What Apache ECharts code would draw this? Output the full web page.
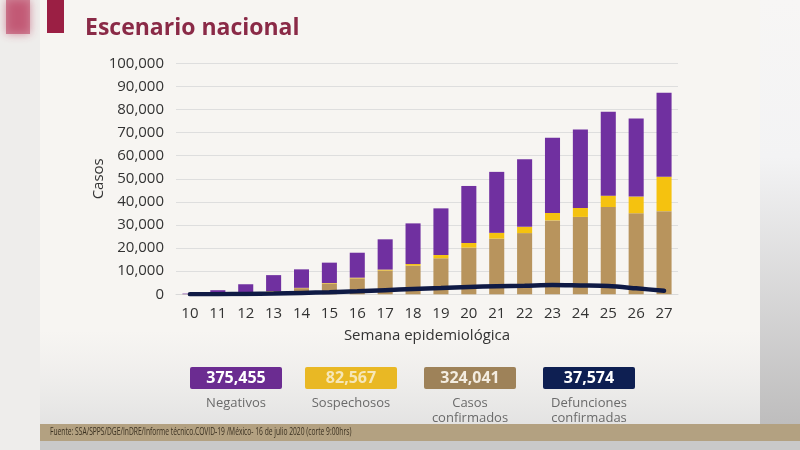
<!DOCTYPE html>
<html><head><meta charset="utf-8">
<script src="https://cdn.jsdelivr.net/npm/echarts@6/dist/echarts.min.js"></script>
<style>html,body{margin:0;padding:0;background:#f7f5f2}#c{width:800px;height:450px}</style>
</head><body><div id="c"></div>
<script>
const weeks = ['10','11','12','13','14','15','16','17','18','19','20','21','22','23','24','25','26','27'];
const confirmados = [50,150,500,1300,2650,4700,6900,10300,12400,15600,20200,24100,26500,32000,33500,37800,35100,36000];
const sospechosos = [0,20,50,100,150,200,300,400,700,1400,2000,2500,2700,3200,3900,4900,7200,14900];
const negativos = [250,1600,3800,6900,8000,8800,10800,13100,17600,20200,24700,26400,29300,32600,33900,36350,33750,36350];
const defunciones = [20,50,150,300,600,900,1300,1800,2300,2700,3200,3500,3700,4000,3800,3600,2600,1500];
const yTicks = [0,10000,20000,30000,40000,50000,60000,70000,80000,90000,100000];
const totals = [
  {value:'375,455', label:'Negativos', color:'#6b2c91', text:'#ffffff'},
  {value:'82,567', label:'Sospechosos', color:'#e9b824', text:'#f6e7b8'},
  {value:'324,041', label:'Casos\nconfirmados', color:'#9e8259', text:'#f3ece0'},
  {value:'37,574', label:'Defunciones\nconfirmadas', color:'#0e1f52', text:'#ffffff'}
];
const fuente = 'Fuente: SSA/SPPS/DGE/InDRE/Informe técnico.COVID-19 /México- 16 de julio 2020 (corte 9:00hrs)';

const chart = echarts.init(document.getElementById('c'), null, {renderer:'canvas'});
const font = '"Open Sans", "Noto Sans", sans-serif';
const graphics = [
  {type:'rect', shape:{x:0,y:0,width:40,height:450}, style:{fill:'#eeedeb'}, z:-10},
  {type:'rect', shape:{x:6,y:0,width:24,height:34}, style:{fill:'#b4284e', opacity:0.5, shadowBlur:10, shadowColor:'#b4284e'}, z:-9},
  {type:'rect', shape:{x:47,y:0,width:17,height:33}, style:{fill:'#9b1f44'}, z:-9},
  {type:'rect', shape:{x:760,y:0,width:40,height:450}, style:{fill:new echarts.graphic.LinearGradient(0,0,0,1,[{offset:0,color:'#f7f6f5'},{offset:0.35,color:'#f3f3f4'},{offset:1,color:'#b9b8b8'}])}, z:-10},
  {type:'rect', shape:{x:40,y:330,width:720,height:120}, style:{fill:new echarts.graphic.LinearGradient(0,0,0,1,[{offset:0,color:'rgba(230,230,230,0)'},{offset:1,color:'#dcdcdc'}])}, z:-10},
  {type:'text', left:85, top:17, style:{text:'Escenario nacional', font:'bold 23px '+font, fill:'#8a2a47'}},
  {type:'rect', shape:{x:40,y:424,width:760,height:17}, style:{fill:'#b3a181'}, z:-5},
  {type:'rect', shape:{x:40,y:441,width:760,height:9}, style:{fill:'#c9c9c9'}, z:-5},
  {type:'group', x:50, y:432.5, scaleX:0.67, children:[
    {type:'text', x:0, y:0, style:{text:fuente, font:'10px '+font, fill:'#3a3020', verticalAlign:'middle'}}
  ]}
];
const boxX = [190, 305, 424, 543];
totals.forEach((t,i)=>{
  graphics.push({type:'rect', shape:{x:boxX[i],y:367,width:92,height:22,r:2}, style:{fill:t.color}});
  graphics.push({type:'text', x:boxX[i]+46, y:378, style:{text:t.value, font:'bold 16px '+font, fill:t.text, align:'center', verticalAlign:'middle'}});
  graphics.push({type:'text', x:boxX[i]+46, y:396, style:{text:t.label, font:'13px '+font, fill:'#6a6a6a', align:'center', verticalAlign:'top', lineHeight:15}});
});

chart.setOption({
  backgroundColor:'#f7f5f2',
  animation:false,
  graphic: graphics,
  grid:{left:176, right:122, top:63.3, bottom:155.7},
  xAxis:{type:'category', data:weeks,
    axisLine:{show:true, lineStyle:{color:'#d9d9d9'}}, axisTick:{show:false},
    axisLabel:{color:'#333', fontSize:15, fontFamily:font, margin:12},
    name:'Semana epidemiológica', nameLocation:'middle', nameGap:34,
    nameTextStyle:{color:'#333', fontSize:15, fontFamily:font}},
  yAxis:{type:'value', min:yTicks[0], max:yTicks[yTicks.length-1], interval:10000,
    axisLine:{show:false}, axisTick:{show:false},
    splitLine:{lineStyle:{color:'#dedede', width:1}},
    axisLabel:{color:'#333', fontSize:15, fontFamily:font, margin:12,
      formatter:v=>v.toLocaleString('en-US')},
    name:'Casos', nameLocation:'middle', nameGap:70, nameRotate:90, nameMoveOverlap:false,
    nameTextStyle:{color:'#333', fontSize:15, fontFamily:font}},
  series:[
    {name:'Casos confirmados', type:'bar', stack:'s', data:confirmados, barWidth:'54%', itemStyle:{color:'#b8945d'}},
    {name:'Sospechosos', type:'bar', stack:'s', data:sospechosos, itemStyle:{color:'#f5c20f'}},
    {name:'Negativos', type:'bar', stack:'s', data:negativos, itemStyle:{color:'#7030a0'}},
    {name:'Defunciones', type:'line', data:defunciones, symbol:'none', smooth:0.3,
      lineStyle:{color:'#0f1a45', width:4.5, cap:'round'}, z:5}
  ]
});
</script></body></html>
